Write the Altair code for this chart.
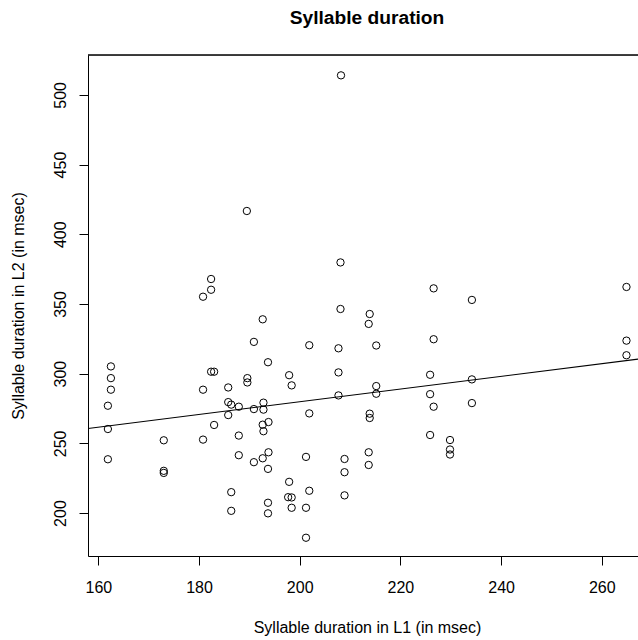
import altair as alt
import pandas as pd

# Syllable durations (msec)
l1_duration = [
    208.2, 189.5, 182.4, 182.4, 180.8, 192.65, 190.9, 193.7, 162.5, 162.5,
    162.5, 161.9, 161.9, 161.9, 182.4, 183.0, 180.8, 185.8, 189.6, 189.6,
    185.8, 186.4, 187.9, 190.9, 192.8, 192.8, 185.8, 183.0, 193.8, 192.65,
    192.8, 187.9, 173.0, 180.8, 187.9, 190.9, 192.65, 193.8, 193.7, 173.0,
    173.0, 186.4, 186.4, 193.7, 193.7, 208.1, 226.6, 234.2, 208.1, 213.9,
    213.7, 201.9, 207.7, 215.2, 226.6, 197.9, 198.4, 207.7, 225.9, 215.2,
    215.2, 207.7, 234.2, 225.9, 226.6, 234.2, 201.9, 213.9, 213.9, 225.9,
    229.85, 229.85, 229.85, 201.25, 208.9, 213.7, 208.9, 213.7, 197.9, 197.7,
    198.4, 198.4, 201.9, 201.25, 208.9, 201.25, 264.9, 264.9, 264.9,
]
l2_duration = [
    514.0, 416.7, 367.9, 360.2, 355.2, 339.0, 322.8, 308.2, 305.2, 296.8,
    288.5, 277.0, 260.3, 238.6, 301.4, 301.4, 288.5, 290.1, 296.8, 293.7,
    279.6, 277.8, 276.3, 274.6, 279.2, 274.2, 270.3, 263.2, 265.3, 263.4,
    258.7, 255.6, 252.2, 252.7, 241.5, 236.5, 239.3, 243.6, 231.7, 230.3,
    228.8, 215.0, 201.6, 207.4, 199.8, 379.8, 361.2, 352.9, 346.4, 342.8,
    335.7, 320.4, 318.2, 320.2, 324.7, 298.9, 291.6, 300.9, 299.2, 291.1,
    285.6, 284.4, 295.9, 285.3, 276.3, 278.9, 271.5, 271.3, 268.2, 256.0,
    252.4, 245.6, 242.0, 240.3, 238.8, 243.6, 229.3, 234.5, 222.4, 211.4,
    211.2, 203.8, 216.0, 203.8, 212.7, 182.3, 362.2, 323.7, 313.2,
]

# Fitted regression line
fit_intercept = 188.7
fit_slope = 0.4556

x_domain = [157.95, 267.19]
y_domain = [169.2, 528.6]
x_ticks = [160, 180, 200, 220, 240, 260]
y_ticks = [200, 250, 300, 350, 400, 450, 500]

W, H = 550, 501
FONT = "Liberation Sans"

df = pd.DataFrame({"L1": l1_duration, "L2": l2_duration})
df_line = pd.DataFrame({
    "L1": x_domain,
    "L2": [fit_intercept + fit_slope * v for v in x_domain],
})

x_scale = alt.Scale(domain=x_domain, nice=False, zero=False)
y_scale = alt.Scale(domain=y_domain, nice=False, zero=False)

x_axis = alt.Axis(
    values=x_ticks, grid=False, domainColor="black", tickColor="black",
    tickSize=9, labelPadding=27, labelBaseline="alphabetic",
    labelFont=FONT, labelFontSize=16, labelColor="black",
    title="Syllable duration in L1 (in msec)", titleFont=FONT,
    titleFontSize=16, titleFontWeight="normal", titleColor="black",
    titleBaseline="alphabetic", titleX=W / 2 + 4, titleY=76,
    titleAlign="center", labelFlush=False, labelOverlap=False,
)
y_axis = alt.Axis(
    values=y_ticks, grid=False, domainColor="black", tickColor="black",
    tickSize=9, labelPadding=14, labelAngle=270, labelAlign="center",
    labelBaseline="alphabetic", labelFont=FONT, labelFontSize=16,
    labelColor="black", labelFlush=False, labelOverlap=False,
    title="Syllable duration in L2 (in msec)", titleFont=FONT,
    titleFontSize=16, titleFontWeight="normal", titleColor="black",
    titleAngle=270, titleAlign="center", titleBaseline="alphabetic",
    titleX=-64.5, titleY=H / 2,
)

points = alt.Chart(df).mark_point(
    shape="circle", filled=False, color="black", size=54, strokeWidth=1, opacity=1
).encode(
    x=alt.X("L1:Q", scale=x_scale, axis=x_axis),
    y=alt.Y("L2:Q", scale=y_scale, axis=y_axis),
)

line = alt.Chart(df_line).mark_line(color="black", strokeWidth=1.1, clip=True).encode(
    x=alt.X("L1:Q", scale=x_scale),
    y=alt.Y("L2:Q", scale=y_scale),
)

top_border = alt.Chart(df_line).mark_rule(color="black", strokeWidth=1).encode(
    x=alt.value(0), x2=alt.value(W), y=alt.value(0)
)

chart = alt.layer(points, line, top_border).properties(
    width=W, height=H,
    title=alt.TitleParams(
        "Syllable duration", font=FONT, fontSize=19.2, fontWeight="bold",
        color="black", anchor="middle", frame="group", baseline="alphabetic",
        offset=11, dx=4,
    ),
    autosize=alt.AutoSizeParams(type="none"),
    padding={"left": 88, "top": 55, "right": 0, "bottom": 84},
).configure_view(stroke=None).configure(background="white")

chart.save("out.html", embed_options={"renderer": "svg", "actions": False})
